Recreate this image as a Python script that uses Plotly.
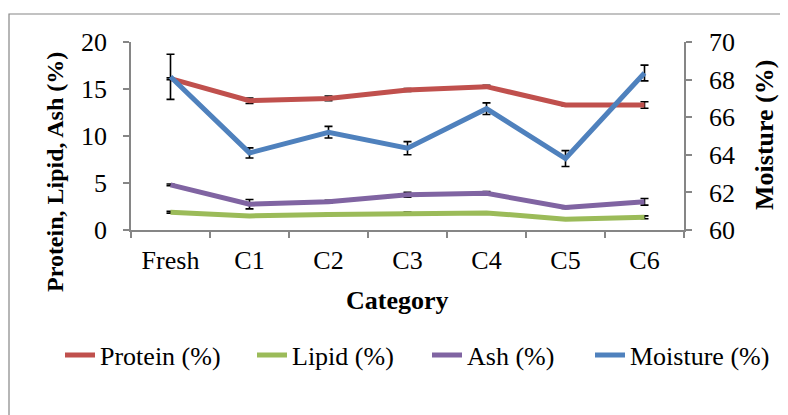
import plotly.graph_objects as go

categories = ["Fresh", "C1", "C2", "C3", "C4", "C5", "C6"]

protein = [16.1, 13.75, 14.0, 14.9, 15.25, 13.3, 13.3]
lipid = [1.9, 1.5, 1.65, 1.8, 1.82, 1.15, 1.35]
ash = [4.8, 2.75, 3.0, 3.75, 3.9, 2.4, 3.0]
moisture = [68.15, 64.1, 65.2, 64.35, 66.45, 63.8, 68.35]

protein_err = [0.1, 0.3, 0.25, 0.15, 0.15, 0.1, 0.35]
lipid_err = [0.1, 0.1, 0.1, 0.1, 0.1, 0.1, 0.15]
ash_err = [0.1, 0.5, 0.15, 0.25, 0.2, 0.1, 0.35]
moisture_err = [1.2, 0.27, 0.31, 0.35, 0.31, 0.42, 0.42]

FONT = "Liberation Serif, Times New Roman, serif"
AXC = "#868686"

def err(a):
    return dict(type="data", array=a, visible=True, color="black", thickness=1.6, width=4)

fig = go.Figure()
fig.add_trace(go.Scatter(x=categories, y=protein, name="Protein (%)", mode="lines", legend="legend",
                         line=dict(color="#C0504D", width=5), error_y=err(protein_err)))
fig.add_trace(go.Scatter(x=categories, y=lipid, name="Lipid (%)", mode="lines", legend="legend2",
                         line=dict(color="#9BBB59", width=5), error_y=err(lipid_err)))
fig.add_trace(go.Scatter(x=categories, y=ash, name="Ash (%)", mode="lines", legend="legend3",
                         line=dict(color="#8064A2", width=5), error_y=err(ash_err)))
fig.add_trace(go.Scatter(x=categories, y=moisture, name="Moisture (%)", mode="lines", legend="legend4",
                         line=dict(color="#4F81BD", width=5), error_y=err(moisture_err),
                         yaxis="y2"))

OFF = 8  # page body margin
W, H = 788 - OFF, 415 - OFF
L, R, T, B = 131, 684, 42, 230  # plot area in screen pixels
pw, ph = R - L, B - T

def px(x):
    return (x - L) / pw

def py(y):
    return (B - y) / ph

def leg(xs):
    return dict(orientation="h", x=px(xs), xanchor="left", y=py(355), yanchor="middle",
                font=dict(size=26), bgcolor="rgba(0,0,0,0)")

fig.update_layout(
    width=W, height=H,
    margin=dict(l=L - OFF, r=W - (R - OFF), t=T - OFF, b=H - (B - OFF), pad=0, autoexpand=False),
    paper_bgcolor="white", plot_bgcolor="white",
    font=dict(family=FONT, size=26, color="black"),
    showlegend=True,
    legend=leg(60), legend2=leg(252), legend3=leg(427), legend4=leg(590),
    xaxis=dict(type="category", range=[-0.5, len(categories) - 0.5], autorange=False,
               showline=True, linecolor=AXC, linewidth=1.5, ticks="outside", tickson="boundaries",
               ticklen=6, tickcolor=AXC, tickwidth=1.5, showgrid=False, zeroline=False,
               tickfont=dict(size=26), ticklabelstandoff=6),
    yaxis=dict(range=[0, 20], dtick=5, showline=True, linecolor=AXC, linewidth=1.5,
               ticks="outside", ticklen=6, tickcolor=AXC, tickwidth=1.5, showgrid=False,
               zeroline=False, tickfont=dict(size=26), ticklabelstandoff=11),
    yaxis2=dict(range=[60, 70], dtick=2, overlaying="y", side="right", showline=True,
                linecolor=AXC, linewidth=1.5, ticks="outside", ticklen=6, tickcolor=AXC,
                tickwidth=1.5, showgrid=False, zeroline=False, tickfont=dict(size=26),
                ticklabelstandoff=12),
    shapes=[dict(type="rect", xref="paper", yref="paper", x0=px(9), x1=px(800), y0=py(430), y1=py(14),
                 line=dict(color=AXC, width=1.2), fillcolor="rgba(0,0,0,0)", layer="below")],
    annotations=[
        dict(text="<b>Protein, Lipid, Ash (%)</b>", xref="paper", yref="paper", x=px(55), y=py(172),
             textangle=-90, showarrow=False, font=dict(size=24), xanchor="center", yanchor="middle"),
        dict(text="<b>Moisture (%)</b>", xref="paper", yref="paper", x=px(764), y=py(135),
             textangle=-90, showarrow=False, font=dict(size=26), xanchor="center", yanchor="middle"),
        dict(text="<b>Category</b>", xref="paper", yref="paper", x=px(397), y=py(300),
             showarrow=False, font=dict(size=26), xanchor="center", yanchor="middle"),
    ],
)

fig.write_html("out.html")
